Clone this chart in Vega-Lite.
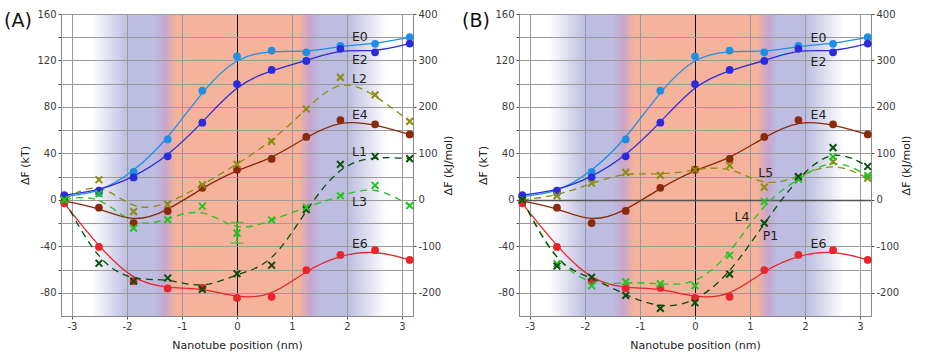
{
  "$schema": "https://vega.github.io/schema/vega-lite/v6.json",
  "padding": {"left": 3, "top": 8, "right": 4, "bottom": 3},
  "spacing": 6,
  "config": {
    "font": "DejaVu Sans",
    "view": {
      "stroke": "#8a8a8a",
      "strokeWidth": 1,
      "fill": {
        "gradient": "linear", "x1": 0, "y1": 0, "x2": 1, "y2": 0,
        "stops": [
          {"offset": 0, "color": "#ffffff"},
          {"offset": 0.086, "color": "#ffffff"},
          {"offset": 0.1875, "color": "#bcbde0"},
          {"offset": 0.2656, "color": "#bcbde0"},
          {"offset": 0.2938, "color": "#c7a6cf"},
          {"offset": 0.325, "color": "#f4b39a"},
          {"offset": 0.675, "color": "#f4b39a"},
          {"offset": 0.706, "color": "#c7a6cf"},
          {"offset": 0.734, "color": "#bcbde0"},
          {"offset": 0.8125, "color": "#bcbde0"},
          {"offset": 0.922, "color": "#ffffff"},
          {"offset": 1, "color": "#ffffff"}
        ]
      }
    },
    "axis": {
      "labelFont": "DejaVu Sans", "labelFontSize": 10, "labelColor": "#3a3a3a",
      "titleFont": "DejaVu Sans", "titleFontSize": 11, "titleFontWeight": "normal", "titleColor": "#222222",
      "domainColor": "#8a8a8a", "tickColor": "#555555", "tickSize": 3
    },
    "title": {"font": "DejaVu Sans", "fontWeight": "normal", "fontSize": 19, "color": "#111111"}
  },
  "datasets": {
    "E": [
      {"s": "E0", "x": -3.14, "y": 3}, {"s": "E0", "x": -2.51, "y": 6}, {"s": "E0", "x": -1.88, "y": 24}, {"s": "E0", "x": -1.26, "y": 52}, {"s": "E0", "x": -0.63, "y": 94}, {"s": "E0", "x": 0, "y": 123.6}, {"s": "E0", "x": 0.63, "y": 128.5}, {"s": "E0", "x": 1.26, "y": 127}, {"s": "E0", "x": 1.88, "y": 132.6}, {"s": "E0", "x": 2.51, "y": 134.3}, {"s": "E0", "x": 3.14, "y": 140},
      {"s": "E2", "x": -3.14, "y": 4}, {"s": "E2", "x": -2.51, "y": 8}, {"s": "E2", "x": -1.88, "y": 19.3}, {"s": "E2", "x": -1.26, "y": 37.5}, {"s": "E2", "x": -0.63, "y": 66.4}, {"s": "E2", "x": 0, "y": 99.7}, {"s": "E2", "x": 0.63, "y": 111.8}, {"s": "E2", "x": 1.26, "y": 119.6}, {"s": "E2", "x": 1.88, "y": 130}, {"s": "E2", "x": 2.51, "y": 127}, {"s": "E2", "x": 3.14, "y": 134.6},
      {"s": "E4", "x": -3.14, "y": -1}, {"s": "E4", "x": -2.51, "y": -6.7}, {"s": "E4", "x": -1.88, "y": -20}, {"s": "E4", "x": -1.26, "y": -9.5}, {"s": "E4", "x": -0.63, "y": 10.4}, {"s": "E4", "x": 0, "y": 26}, {"s": "E4", "x": 0.63, "y": 35.2}, {"s": "E4", "x": 1.26, "y": 54.2}, {"s": "E4", "x": 1.88, "y": 68.7}, {"s": "E4", "x": 2.51, "y": 65}, {"s": "E4", "x": 3.14, "y": 56.3},
      {"s": "E6", "x": -3.14, "y": -3}, {"s": "E6", "x": -2.51, "y": -40.5}, {"s": "E6", "x": -1.88, "y": -70}, {"s": "E6", "x": -1.26, "y": -76.3}, {"s": "E6", "x": -0.63, "y": -75.7}, {"s": "E6", "x": 0, "y": -84.4}, {"s": "E6", "x": 0.63, "y": -83.5}, {"s": "E6", "x": 1.26, "y": -60.4}, {"s": "E6", "x": 1.88, "y": -47.4}, {"s": "E6", "x": 2.51, "y": -43.3}, {"s": "E6", "x": 3.14, "y": -51.7}
    ],
    "LA": [
      {"s": "L2", "x": -3.14, "y": 0}, {"s": "L2", "x": -2.51, "y": 17.3}, {"s": "L2", "x": -1.88, "y": -10.1}, {"s": "L2", "x": -1.26, "y": -4}, {"s": "L2", "x": -0.63, "y": 13}, {"s": "L2", "x": 0, "y": 30.6}, {"s": "L2", "x": 0.63, "y": 50.3}, {"s": "L2", "x": 1.26, "y": 78.2}, {"s": "L2", "x": 1.88, "y": 105.4}, {"s": "L2", "x": 2.51, "y": 90.4}, {"s": "L2", "x": 3.14, "y": 67.6},
      {"s": "L1", "x": -3.14, "y": 0}, {"s": "L1", "x": -2.51, "y": -54.6}, {"s": "L1", "x": -1.88, "y": -70}, {"s": "L1", "x": -1.26, "y": -67.3}, {"s": "L1", "x": -0.63, "y": -77.1}, {"s": "L1", "x": 0, "y": -63.6}, {"s": "L1", "x": 0.63, "y": -56.3}, {"s": "L1", "x": 1.26, "y": -8.4}, {"s": "L1", "x": 1.88, "y": 30.6}, {"s": "L1", "x": 2.51, "y": 37.3}, {"s": "L1", "x": 3.14, "y": 35.5},
      {"s": "L3", "x": -3.14, "y": 0}, {"s": "L3", "x": -2.51, "y": 5.2}, {"s": "L3", "x": -1.88, "y": -24.3}, {"s": "L3", "x": -1.26, "y": -17}, {"s": "L3", "x": -0.63, "y": -5.5}, {"s": "L3", "x": 0, "y": -28.6}, {"s": "L3", "x": 0.63, "y": -17.3}, {"s": "L3", "x": 1.26, "y": -6.4}, {"s": "L3", "x": 1.88, "y": 3.5}, {"s": "L3", "x": 2.51, "y": 12.4}, {"s": "L3", "x": 3.14, "y": -4.9}
    ],
    "LB": [
      {"s": "L5", "x": -3.14, "y": 0}, {"s": "L5", "x": -2.51, "y": 3.4}, {"s": "L5", "x": -1.88, "y": 14.3}, {"s": "L5", "x": -1.26, "y": 23.7}, {"s": "L5", "x": -0.63, "y": 21.2}, {"s": "L5", "x": 0, "y": 25.9}, {"s": "L5", "x": 0.63, "y": 29.6}, {"s": "L5", "x": 1.26, "y": 10.9}, {"s": "L5", "x": 1.88, "y": 19.6}, {"s": "L5", "x": 2.51, "y": 33}, {"s": "L5", "x": 3.14, "y": 18.7},
      {"s": "L4", "x": -3.14, "y": 0}, {"s": "L4", "x": -2.51, "y": -55}, {"s": "L4", "x": -1.88, "y": -74}, {"s": "L4", "x": -1.26, "y": -70.6}, {"s": "L4", "x": -0.63, "y": -72.3}, {"s": "L4", "x": 0, "y": -74}, {"s": "L4", "x": 0.63, "y": -47.7}, {"s": "L4", "x": 1.26, "y": -1.4}, {"s": "L4", "x": 1.88, "y": 17.7}, {"s": "L4", "x": 2.51, "y": 37}, {"s": "L4", "x": 3.14, "y": 21},
      {"s": "P1", "x": -3.14, "y": 0}, {"s": "P1", "x": -2.51, "y": -57}, {"s": "P1", "x": -1.88, "y": -66.6}, {"s": "P1", "x": -1.26, "y": -82.3}, {"s": "P1", "x": -0.63, "y": -93.4}, {"s": "P1", "x": 0, "y": -88.6}, {"s": "P1", "x": 0.63, "y": -64}, {"s": "P1", "x": 1.26, "y": -20}, {"s": "P1", "x": 1.88, "y": 20}, {"s": "P1", "x": 2.51, "y": 45}, {"s": "P1", "x": 3.14, "y": 28.7}
    ],
    "labA": [
      {"t": "E0", "x": 2.09, "y": 140.4}, {"t": "E2", "x": 2.09, "y": 120}, {"t": "L2", "x": 2.09, "y": 104.2}, {"t": "E4", "x": 2.09, "y": 73}, {"t": "L1", "x": 2.09, "y": 41.2}, {"t": "L3", "x": 2.09, "y": -2}, {"t": "E6", "x": 2.09, "y": -37.6}
    ],
    "labB": [
      {"t": "E0", "x": 2.1, "y": 139.5}, {"t": "E2", "x": 2.1, "y": 119}, {"t": "E4", "x": 2.1, "y": 73}, {"t": "L5", "x": 1.15, "y": 23}, {"t": "L4", "x": 0.72, "y": -14.4}, {"t": "P1", "x": 1.23, "y": -30.8}, {"t": "E6", "x": 2.1, "y": -38}
    ],
    "errA": [{"s": "L3", "x": 0, "lo": -37.3, "hi": -19.4}]
  },
  "hconcat": [
    {
      "width": 352, "height": 302,
      "title": {"text": "(A)", "anchor": "start", "frame": "group", "dx": -57, "dy": 22, "offset": 0},
      "resolve": {"scale": {"y": "independent"}},
      "layer": [
        {
          "encoding": {
            "x": {"field": "x", "type": "quantitative", "scale": {"domain": [-3.2, 3.2], "nice": false, "zero": false},
              "axis": {"title": "Nanotube position (nm)", "values": [-3, -2.5, -2, -1.5, -1, -0.5, 0, 0.5, 1, 1.5, 2, 2.5, 3],
                "labelExpr": "datum.value % 1 === 0 ? '' + datum.value : ''", "titlePadding": 8,
                "grid": true, "gridColor": {"condition": {"test": "datum.value === 0", "value": "#111111"}, "value": "#9a9a9a"}}},
            "y": {"field": "y", "type": "quantitative", "scale": {"domain": [-100, 160], "nice": false, "zero": false},
              "axis": {"title": "ΔF (kT)", "values": [-80, -60, -40, -20, 0, 20, 40, 60, 80, 100, 120, 140, 160],
                "labelExpr": "datum.value % 40 === 0 ? '' + datum.value : ''", "titlePadding": 6,
                "grid": true, "gridColor": "#9a9a9a"}}
          },
          "layer": [
            {"data": {"name": "E"}, "mark": {"type": "line", "interpolate": "basis", "strokeWidth": 1.3},
              "encoding": {"color": {"field": "s", "type": "nominal", "legend": null,
                "scale": {"domain": ["E0", "E2", "E4", "E6", "L1", "L2", "L3", "L4", "L5", "P1"], "range": ["#1f8fe5", "#2b2bdc", "#8b2a08", "#e8242c", "#0b4d0b", "#8c8c10", "#22c422", "#22c422", "#8c8c10", "#0b4d0b"]}}}},
            {"data": {"name": "LA"}, "mark": {"type": "line", "interpolate": "basis", "strokeWidth": 1.3, "strokeDash": [7, 5]},
              "encoding": {"color": {"field": "s", "type": "nominal", "legend": null}}},
            {"data": {"name": "E"}, "mark": {"type": "circle", "size": 60, "opacity": 1},
              "encoding": {"color": {"field": "s", "type": "nominal", "legend": null}}},
            {"data": {"name": "LA"}, "mark": {"type": "point", "shape": "M-1,-1L1,1M-1,1L1,-1", "filled": false, "strokeWidth": 2, "size": 45, "opacity": 1},
              "encoding": {"color": {"field": "s", "type": "nominal", "legend": null}}},
            {"data": {"name": "errA"}, "mark": {"type": "rule", "color": "#22c422", "strokeWidth": 1.5},
              "encoding": {"y": {"field": "lo", "type": "quantitative"}, "y2": {"field": "hi"}}},
            {"data": {"name": "errA"}, "mark": {"type": "tick", "orient": "horizontal", "size": 13, "thickness": 1.5, "color": "#22c422"},
              "encoding": {"y": {"field": "lo", "type": "quantitative"}}},
            {"data": {"name": "errA"}, "mark": {"type": "tick", "orient": "horizontal", "size": 13, "thickness": 1.5, "color": "#22c422"},
              "encoding": {"y": {"field": "hi", "type": "quantitative"}}},
            {"data": {"name": "labA"}, "mark": {"type": "text", "align": "left", "baseline": "middle", "fontSize": 12.5, "color": "#222222"},
              "encoding": {"text": {"field": "t"}}}
          ]
        },
        {
          "data": {"name": "E"},
          "mark": {"type": "point", "opacity": 0},
          "encoding": {
            "x": {"field": "x", "type": "quantitative"},
            "y": {"field": "y", "type": "quantitative", "scale": {"domain": [-250, 400], "nice": false, "zero": false},
              "axis": {"orient": "right", "title": "ΔF (kJ/mol)", "titleAngle": 270, "titleBaseline": "bottom", "values": [-200, -100, 0, 100, 200, 300, 400],
                "labelExpr": "'' + datum.value", "grid": false, "titlePadding": 13}}
          }
        }
      ]
    },
    {
      "width": 352, "height": 302,
      "title": {"text": "(B)", "anchor": "start", "frame": "group", "dx": -57, "dy": 22, "offset": 0},
      "resolve": {"scale": {"y": "independent"}},
      "layer": [
        {
          "encoding": {
            "x": {"field": "x", "type": "quantitative", "scale": {"domain": [-3.2, 3.2], "nice": false, "zero": false},
              "axis": {"title": "Nanotube position (nm)", "values": [-3, -2.5, -2, -1.5, -1, -0.5, 0, 0.5, 1, 1.5, 2, 2.5, 3],
                "labelExpr": "datum.value % 1 === 0 ? '' + datum.value : ''", "titlePadding": 8,
                "grid": true, "gridColor": {"condition": {"test": "datum.value === 0", "value": "#111111"}, "value": "#9a9a9a"}}},
            "y": {"field": "y", "type": "quantitative", "scale": {"domain": [-100, 160], "nice": false, "zero": false},
              "axis": {"title": "ΔF (kT)", "values": [-80, -60, -40, -20, 0, 20, 40, 60, 80, 100, 120, 140, 160],
                "labelExpr": "datum.value % 40 === 0 ? '' + datum.value : ''", "titlePadding": 6,
                "grid": true, "gridColor": {"condition": {"test": "datum.value === 0", "value": "#555555"}, "value": "#9a9a9a"},
                "gridWidth": {"condition": {"test": "datum.value === 0", "value": 1.5}, "value": 1}}}
          },
          "layer": [
            {"data": {"name": "E"}, "mark": {"type": "line", "interpolate": "basis", "strokeWidth": 1.3},
              "encoding": {"color": {"field": "s", "type": "nominal", "legend": null,
                "scale": {"domain": ["E0", "E2", "E4", "E6", "L1", "L2", "L3", "L4", "L5", "P1"], "range": ["#1f8fe5", "#2b2bdc", "#8b2a08", "#e8242c", "#0b4d0b", "#8c8c10", "#22c422", "#22c422", "#8c8c10", "#0b4d0b"]}}}},
            {"data": {"name": "LB"}, "mark": {"type": "line", "interpolate": "basis", "strokeWidth": 1.3, "strokeDash": [7, 5]},
              "encoding": {"color": {"field": "s", "type": "nominal", "legend": null}}},
            {"data": {"name": "E"}, "mark": {"type": "circle", "size": 60, "opacity": 1},
              "encoding": {"color": {"field": "s", "type": "nominal", "legend": null}}},
            {"data": {"name": "LB"}, "mark": {"type": "point", "shape": "M-1,-1L1,1M-1,1L1,-1", "filled": false, "strokeWidth": 2, "size": 45, "opacity": 1},
              "encoding": {"color": {"field": "s", "type": "nominal", "legend": null}}},
            {"data": {"name": "labB"}, "mark": {"type": "text", "align": "left", "baseline": "middle", "fontSize": 12.5, "color": "#222222"},
              "encoding": {"text": {"field": "t"}}}
          ]
        },
        {
          "data": {"name": "E"},
          "mark": {"type": "point", "opacity": 0},
          "encoding": {
            "x": {"field": "x", "type": "quantitative"},
            "y": {"field": "y", "type": "quantitative", "scale": {"domain": [-250, 400], "nice": false, "zero": false},
              "axis": {"orient": "right", "title": "ΔF (kJ/mol)", "titleAngle": 270, "titleBaseline": "bottom", "values": [-200, -100, 0, 100, 200, 300, 400],
                "labelExpr": "'' + datum.value", "grid": false, "titlePadding": 13}}
          }
        }
      ]
    }
  ]
}
